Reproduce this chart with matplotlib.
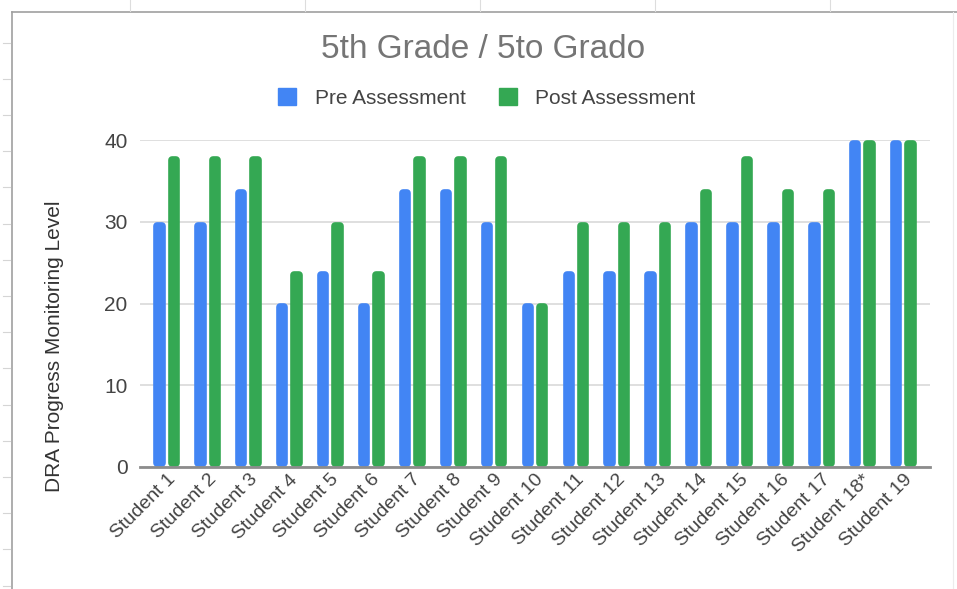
import matplotlib
matplotlib.use("Agg")
import matplotlib.pyplot as plt
from matplotlib.lines import Line2D
from matplotlib.patches import Patch
import numpy as np

plt.rcParams['font.family'] = ['Liberation Sans', 'DejaVu Sans']

students = ["Student 1", "Student 2", "Student 3", "Student 4", "Student 5",
            "Student 6", "Student 7", "Student 8", "Student 9", "Student 10",
            "Student 11", "Student 12", "Student 13", "Student 14", "Student 15",
            "Student 16", "Student 17", "Student 18*", "Student 19"]
pre = [30, 30, 34, 20, 24, 20, 34, 34, 30, 20, 24, 24, 24, 30, 30, 30, 30, 40, 40]
post = [38, 38, 38, 24, 30, 24, 38, 38, 38, 20, 30, 30, 30, 34, 38, 34, 34, 40, 40]
yticks = [0, 10, 20, 30, 40]

BLUE = "#4285F4"
GREEN = "#34A853"

W, H = 957, 589
fig = plt.figure(figsize=(W / 100, H / 100), dpi=100)


def fx(px):
    return px / W


def fy(py):
    return 1 - py / H


# spreadsheet frame decorations
fig.add_artist(Line2D([fx(12), fx(957)], [fy(12), fy(12)], color="#a0a0a0", lw=1.2))
fig.add_artist(Line2D([fx(12), fx(12)], [fy(12), fy(589)], color="#a0a0a0", lw=1.2))
fig.add_artist(Line2D([fx(953), fx(953)], [fy(12), fy(589)], color="#ececec", lw=0.8))
for xc in [130, 305, 480, 655, 830]:
    fig.add_artist(Line2D([fx(xc), fx(xc)], [fy(0), fy(11)], color="#dddddd", lw=0.8))
for k in range(1, 17):
    yc = 6.4 + 36.2 * k
    fig.add_artist(Line2D([fx(3), fx(10)], [fy(yc), fy(yc)], color="#d5d5d5", lw=0.8))

ax_l, ax_r, ax_t, ax_b = 140, 930, 140, 467
ax = fig.add_axes([ax_l / W, 1 - ax_b / H, (ax_r - ax_l) / W, (ax_b - ax_t) / H])

x = np.arange(len(students))
xmin, xmax = -0.65, len(students) - 0.35
ymax = 40
px_per_x = (ax_r - ax_l) / (xmax - xmin)
px_per_y = (ax_b - ax_t) / ymax

lw_pt = 5.5
lw_px = lw_pt * 100 / 72
cap = (lw_px / 2) / px_per_y  # rounded stroke adds this much above/below
vis_w = 12.0  # visual bar width in pixels
bw = (vis_w - lw_px) / px_per_x
off = 7.2 / px_per_x

for series, color, sign in [(pre, BLUE, -1), (post, GREEN, 1)]:
    vals = np.array(series, dtype=float)
    ax.bar(x + sign * off, vals - 2 * cap, bottom=cap, width=bw, color=color,
           edgecolor=color, linewidth=lw_pt, joinstyle="round", zorder=3,
           clip_on=False)

ax.set_xlim(xmin, xmax)
ax.set_ylim(0, ymax)
ax.set_yticks(yticks)
ax.set_yticklabels([str(t) for t in yticks], fontsize=15, color="#444444")
ax.grid(axis="y", color="#dcdcdc", lw=1.3, zorder=0)
ax.set_axisbelow(True)
for s in ["top", "right", "left"]:
    ax.spines[s].set_visible(False)
ax.spines["bottom"].set_color("#8c8c8c")
ax.spines["bottom"].set_linewidth(2.0)
ax.spines["bottom"].set_zorder(5)
ax.tick_params(axis="y", length=0, pad=9)
ax.tick_params(axis="x", length=0, pad=3)
ax.set_xticks(x)
ax.set_xticklabels(students, rotation=45, ha="right", rotation_mode="anchor",
                   fontsize=14, color="#444444")

ax.set_ylabel("DRA Progress Monitoring Level", fontsize=15, color="#333333")
ax.yaxis.set_label_coords((55 - ax_l) / (ax_r - ax_l), (ax_b - 346) / (ax_b - ax_t))
ax.yaxis.label.set_va("center")

fig.text(483 / W, fy(50), "5th Grade / 5to Grado", ha="center", va="center",
         fontsize=24, color="#757575")

handles = [Patch(color=BLUE, label="Pre Assessment"),
           Patch(color=GREEN, label="Post Assessment")]
leg = fig.legend(handles=handles, loc="center", bbox_to_anchor=(487 / W, fy(98)),
                 ncol=2, frameon=False, fontsize=15, handlelength=0.85,
                 handleheight=0.85, handletextpad=0.9, columnspacing=1.6)
for t in leg.get_texts():
    t.set_color("#444444")

fig.savefig("out.png", dpi=100, facecolor="white")
